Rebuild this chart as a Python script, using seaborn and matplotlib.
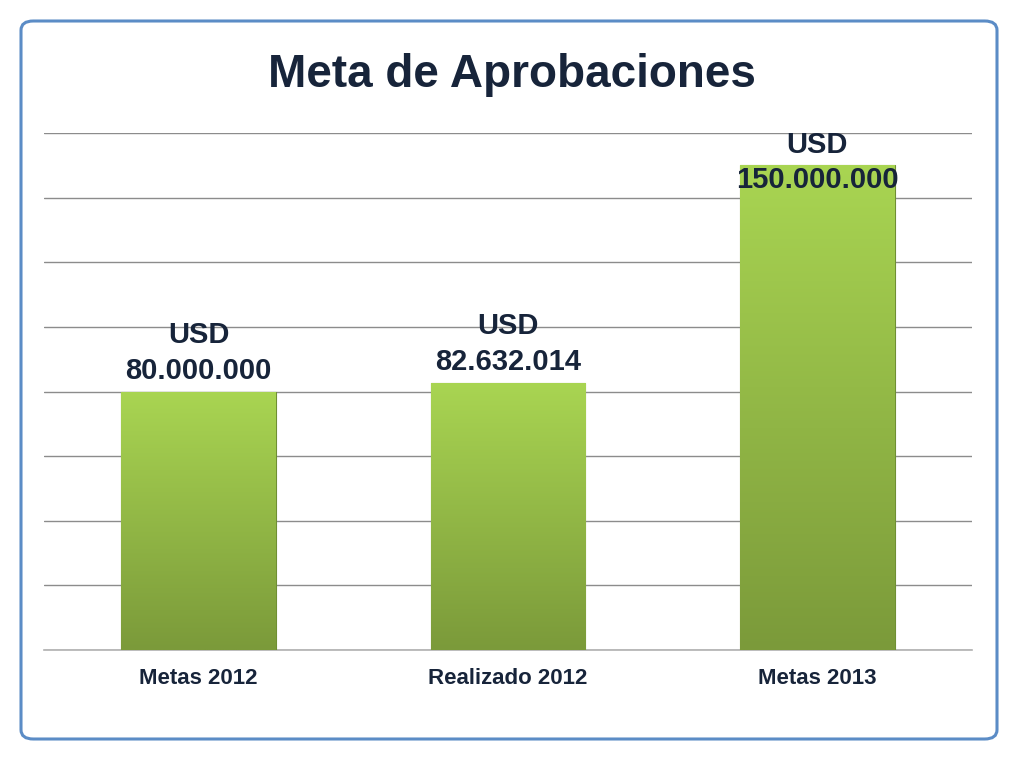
import numpy as np
import pandas as pd
import matplotlib
matplotlib.use("Agg")
import matplotlib.pyplot as plt
import seaborn as sns
from matplotlib.patches import FancyBboxPatch
from matplotlib.colors import LinearSegmentedColormap

# ---------------------------------------------------------
# DATA
# ---------------------------------------------------------
categories = ['Metas 2012', 'Realizado 2012', 'Metas 2013']
values = [80000000, 82632014, 150000000]
value_labels = ['USD\n80.000.000', 'USD\n82.632.014', 'USD\n150.000.000']

df = pd.DataFrame({'categoria': categories, 'monto': values})

sns.set_style("white")
plt.rcParams['font.family'] = ['Liberation Sans', 'DejaVu Sans']

navy = '#17243a'
fig = plt.figure(figsize=(10.24, 7.68), dpi=100)
ax = fig.add_axes([44 / 1024, 1 - 650 / 768, (972 - 44) / 1024, (650 - 133) / 768])

sns.barplot(data=df, x='categoria', y='monto', color='#95bf45', width=0.5,
            edgecolor='#6f8f33', linewidth=0.8, ax=ax, zorder=3)

# green vertical gradient on each bar
grad_cmap = LinearSegmentedColormap.from_list('verde', ['#7b9a3a', '#a9d552'])
for bar in ax.patches:
    x0, y0 = bar.get_x(), bar.get_y()
    w, h = bar.get_width(), bar.get_height()
    grad = np.linspace(0, 1, 256).reshape(-1, 1)
    im = ax.imshow(grad, cmap=grad_cmap, aspect='auto', origin='lower',
                   extent=[x0, x0 + w, y0, y0 + h], zorder=3.5)
    im.set_clip_path(bar)

ax.set_xlim(-0.5, 2.5)
ax.set_ylim(0, 160000000)
ax.set_yticks(np.arange(0, 160000001, 20000000))
ax.yaxis.grid(True, color='#8c8c8c', linewidth=1.0)
ax.set_axisbelow(True)
ax.set_yticklabels([])
ax.tick_params(axis='y', length=0)

for s in ['top', 'right', 'left']:
    ax.spines[s].set_visible(False)
ax.spines['bottom'].set_color('#b0b0b0')
ax.spines['bottom'].set_linewidth(1.2)

ax.set_xticks([-0.5, 0.5, 1.5, 2.5], minor=True)
ax.tick_params(axis='x', which='minor', length=6, color='#b0b0b0', width=1)
ax.tick_params(axis='x', which='major', length=0, pad=13)
for lbl in ax.get_xticklabels():
    lbl.set_fontsize(16)
    lbl.set_fontweight('bold')
    lbl.set_color(navy)
ax.set_xlabel('')
ax.set_ylabel('')

# value labels above bars (kept inside the frame for the tallest one)
for i, (v, txt) in enumerate(zip(values, value_labels)):
    off = 5 if v < 140000000 else -21
    ax.annotate(txt, xy=(i, v), xytext=(0, off), textcoords='offset points',
                ha='center', va='bottom', fontsize=21, fontweight='bold',
                color=navy, linespacing=1.35, zorder=6, annotation_clip=False)

fig.text(0.5, 1 - 75 / 768, 'Meta de Aprobaciones', ha='center', va='center',
         fontsize=33, fontweight='bold', color=navy)

# rounded blue frame
frame = FancyBboxPatch((21 / 1024, 1 - 739 / 768), (997 - 21) / 1024, (739 - 21) / 768,
                       boxstyle='round,pad=0,rounding_size=0.012',
                       transform=fig.transFigure, fill=False,
                       edgecolor='#5b8cc6', linewidth=2.2, zorder=10)
fig.patches.append(frame)

fig.savefig('out.png', dpi=100)
